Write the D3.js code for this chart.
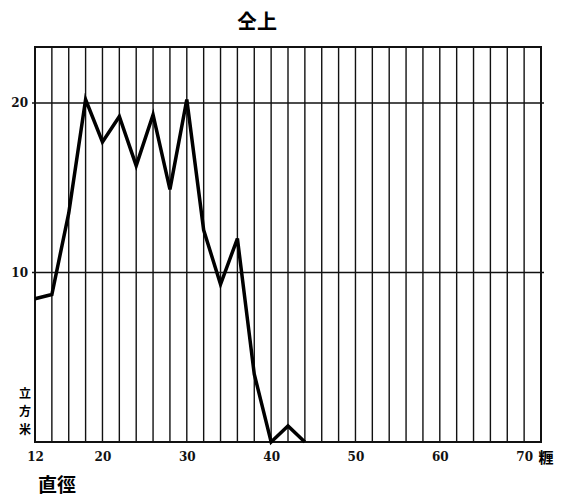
<!DOCTYPE html>
<html><head><meta charset="utf-8">
<script src="https://cdn.jsdelivr.net/npm/d3@7"></script>
<style>body{margin:0;background:#fff;}svg{display:block;}</style>
</head><body>
<svg id="c" width="562" height="496"></svg>
<script>
const diameters = [12,14,16,18,20,22,24,26,28,30,32,34,36,38,40,42,44];
const volumes = [8.45,8.7,13.5,20.2,17.7,19.2,16.3,19.3,14.9,20.2,12.5,9.3,12.0,4.0,0,0.95,0];
const xTicks = [12,20,30,40,50,60,70];
const yTicks = [10,20];
const gridX = d3.range(12, 73, 2);
const title = "仝上";
const yUnit = ["立","方","米"];
const xUnit = "糎";
const xName = "直徑";

const svg = d3.select("#c");
const L=35, R=541, T=47, B=442;
const x = d3.scaleLinear().domain([12,72]).range([L,R]);
const y = d3.scaleLinear().domain([0,23.3]).range([B,T]);
const serif = "'DejaVu Serif','Liberation Serif',serif";
const cjk = "'Noto Sans CJK JP','Noto Sans CJK SC',sans-serif";

// vertical grid
svg.append("g").selectAll("line").data(gridX).join("line")
  .attr("x1",d=>x(d)).attr("x2",d=>x(d)).attr("y1",T).attr("y2",B)
  .attr("stroke","#111").attr("stroke-width",1.4);
// horizontal grid
svg.append("g").selectAll("line").data(yTicks).join("line")
  .attr("x1",L-3).attr("x2",R+3).attr("y1",d=>y(d)).attr("y2",d=>y(d))
  .attr("stroke","#111").attr("stroke-width",1.4);
// frame
svg.append("rect").attr("x",L).attr("y",T).attr("width",R-L).attr("height",B-T)
  .attr("fill","none").attr("stroke","#111").attr("stroke-width",2);

// x axis labels
const xa = d3.axisBottom(x).tickValues(xTicks).tickSize(0).tickPadding(10).tickFormat(d3.format("d"));
const gx = svg.append("g").attr("transform",`translate(0,${B})`).call(xa);
gx.select(".domain").remove();
gx.selectAll("text").attr("font-family",serif).attr("font-weight","bold").attr("font-size",12).attr("fill","#111");
// y axis labels
const ya = d3.axisLeft(y).tickValues(yTicks).tickSize(0).tickPadding(7).tickFormat(d3.format("d"));
const gy = svg.append("g").attr("transform",`translate(${L},0)`).call(ya);
gy.select(".domain").remove();
gy.selectAll("text").attr("font-family",serif).attr("font-weight","bold").attr("font-size",12).attr("fill","#111");

// data line
const line = d3.line().x((d,i)=>x(diameters[i])).y(d=>y(d));
svg.append("path").datum(volumes).attr("d",line).attr("fill","none")
  .attr("stroke","#000").attr("stroke-width",3.5).attr("stroke-linejoin","miter");

// texts
svg.append("text").attr("x",257).attr("y",29).attr("text-anchor","middle")
  .attr("font-family",cjk).attr("font-weight","bold").attr("font-size",20).text(title);
svg.append("g").selectAll("text").data(yUnit).join("text")
  .attr("x",25).attr("y",(d,i)=>398+i*18).attr("text-anchor","middle")
  .attr("font-family",cjk).attr("font-weight","bold").attr("font-size",12).text(d=>d);
svg.append("text").attr("x",546).attr("y",463).attr("text-anchor","middle")
  .attr("font-family",cjk).attr("font-weight","bold").attr("font-size",15).text(xUnit);
svg.append("text").attr("x",57).attr("y",492).attr("text-anchor","middle")
  .attr("font-family",cjk).attr("font-weight","bold").attr("font-size",19).text(xName);
</script>
</body></html>
